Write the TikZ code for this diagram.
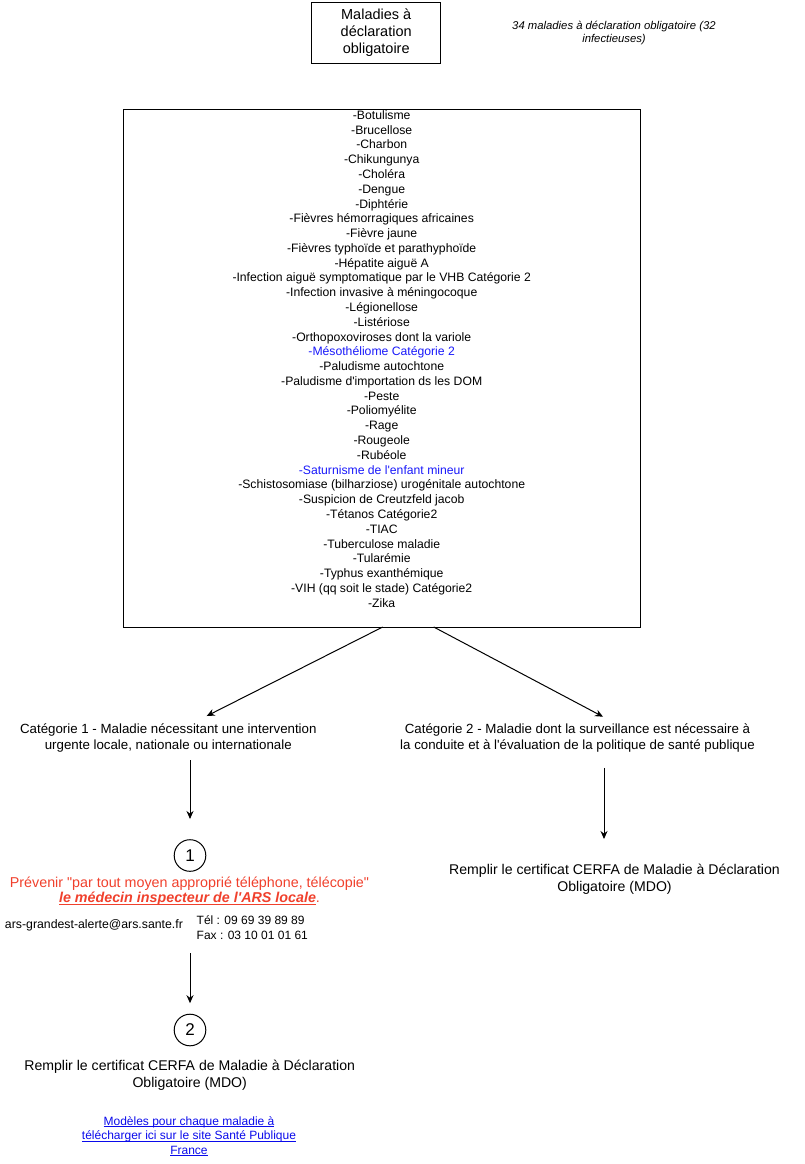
\documentclass[tikz,border=0pt]{standalone}
\usepackage{fontspec}
\setmainfont{Liberation Sans}
\usetikzlibrary{arrows.meta}
\definecolor{alertred}{RGB}{240,64,44}
\definecolor{listblue}{RGB}{25,25,250}
\definecolor{linkblue}{RGB}{10,10,235}
\newcommand{\undl}[1]{\leavevmode\setbox0=\hbox{#1}\rlap{\rule[-2pt]{\wd0}{0.9pt}}\box0}
\newcommand{\sq}{\textquotesingle}
\newcommand{\dq}{\textquotedbl}
\tikzset{
  plain/.style={inner sep=0pt, outer sep=0pt, align=center},
  frame/.style={draw, line width=1pt, inner sep=0pt, outer sep=0pt},
  flowarrow/.style={-{Stealth[length=8pt,width=7pt]}, line width=1pt},
  numcircle/.style={draw, circle, line width=1pt, minimum size=31.6pt, inner sep=0pt, outer sep=0pt, font=\fontsize{17}{20}\selectfont},
}
\begin{document}
\begin{tikzpicture}[x=1pt,y=-1pt]
\useasboundingbox (0,0) rectangle (804,1164);

% title
\node[frame, minimum width=128.5pt, minimum height=60.6pt, align=center,
      font=\fontsize{14.5}{17}\selectfont] (title) at (376.2,33)
  {Maladies à\\déclaration\\obligatoire};
\node[plain, font=\fontsize{11.3}{13.3}\selectfont\itshape] (note) at (614,33.3)
  {34 maladies à déclaration obligatoire (32\\infectieuses)};

% list box
\node[frame, minimum width=516.7pt, minimum height=517.5pt] (list) at (381.7,368.25) {};
\node[plain, font=\fontsize{12.2}{14.78}\selectfont] (listtext) at (381.7,358.9) {%
-Botulisme\\
-Brucellose\\
-Charbon\\
-Chikungunya\\
-Choléra\\
-Dengue\\
-Diphtérie\\
-Fièvres hémorragiques africaines\\
-Fièvre jaune\\
-Fièvres typhoïde et parathyphoïde\\
-Hépatite aiguë A\\
-Infection aiguë symptomatique par le VHB Catégorie 2\\
-Infection invasive à méningocoque\\
-Légionellose\\
-Listériose\\
-Orthopoxoviroses dont la variole\\
{\color{listblue}-Mésothéliome Catégorie 2}\\
-Paludisme autochtone\\
-Paludisme d\sq importation ds les DOM\\
-Peste\\
-Poliomyélite\\
-Rage\\
-Rougeole\\
-Rubéole\\
{\color{listblue}-Saturnisme de l\sq enfant mineur}\\
-Schistosomiase (bilharziose) urogénitale autochtone\\
-Suspicion de Creutzfeld jacob\\
-Tétanos Catégorie2\\
-TIAC\\
-Tuberculose maladie\\
-Tularémie\\
-Typhus exanthémique\\
-VIH (qq soit le stade) Catégorie2\\
-Zika};

% categories
\node[plain, minimum height=44pt, font=\fontsize{13.3}{16}\selectfont] (cat1) at (168.3,738)
  {Catégorie 1 - Maladie nécessitant une intervention\\urgente locale, nationale ou internationale};
\node[plain, minimum height=43.2pt, font=\fontsize{13.3}{16}\selectfont] (cat2) at (577.5,738.3)
  {Catégorie 2 - Maladie dont la surveillance est nécessaire à\\la conduite et à l\sq évaluation de la politique de santé publique};

% left branch
\node[numcircle] (c1) at (190,855.5) {1};
\node[plain, text=alertred, font=\fontsize{14.3}{15.4}\selectfont] (alert) at (189.5,891.4)
  {Prévenir \dq par tout moyen approprié téléphone, télécopie\dq\\
   \undl{\textbf{\textit{le médecin inspecteur de l\sq ARS locale}}}.};
\node[plain, anchor=west, font=\fontsize{12.3}{15}\selectfont] (mail) at (5,925)
  {ars-grandest-alerte@ars.sante.fr};
\node[plain, anchor=west, align=left, minimum height=51pt, font=\fontsize{12}{15}\selectfont] (tel) at (196.7,927.5)
  {Tél : 09 69 39 89 89\\Fax : 03 10 01 01 61};
\node[numcircle] (c2) at (190,1030) {2};
\node[plain, font=\fontsize{14.1}{16.7}\selectfont] (cerfa1) at (189.7,1075)
  {Remplir le certificat CERFA de Maladie à Déclaration\\Obligatoire (MDO)};
\node[plain, text=linkblue, font=\fontsize{12}{14.5}\selectfont] (models) at (189,1136.3)
  {\undl{Modèles pour chaque maladie à}\\\undl{télécharger ici sur le site Santé Publique}\\\undl{France}};

% right branch
\node[plain, minimum height=80.6pt, font=\fontsize{14.1}{16.7}\selectfont] (cerfa2) at (614.5,879.3)
  {Remplir le certificat CERFA de Maladie à Déclaration\\Obligatoire (MDO)};

% connectors
\draw[flowarrow] ([xshift=1pt]list.south) -- ([xshift=38.4pt]cat1.north);
\draw[flowarrow] ([xshift=52pt]list.south) -- ([xshift=25.5pt]cat2.north);
\draw[flowarrow] ([xshift=21.7pt]cat1.south) -- ([yshift=20.7pt]c1.north);
\draw[flowarrow] ([xshift=26.5pt,yshift=-8pt]cat2.south) -- ([xshift=-10.5pt]cerfa2.north);
\draw[flowarrow] (c1 |- tel.south) -- ([yshift=11pt]c2.north);
\end{tikzpicture}
\end{document}
